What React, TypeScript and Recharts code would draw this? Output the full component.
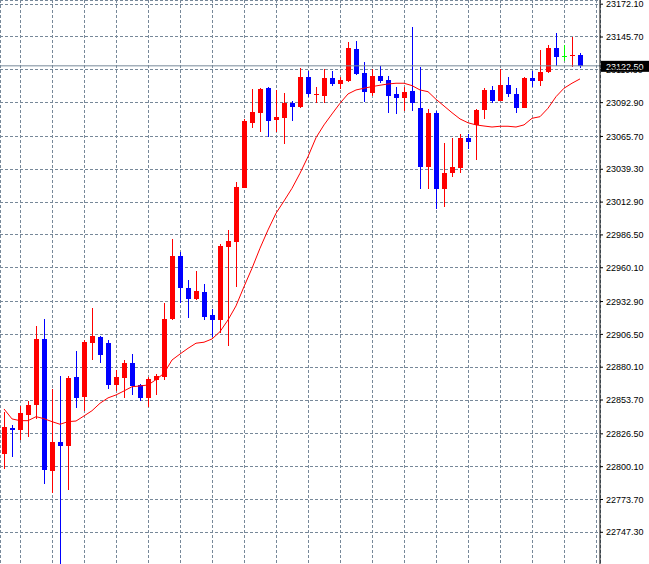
import { ComposedChart, Bar, Line, XAxis, YAxis, CartesianGrid, ReferenceLine } from "recharts";

const opens = [
  22810.5, 22831.5, 22829.9, 22841.7, 22850.0, 22902.8, 22796.6, 22820.0, 22817.0, 22872.2,
  22856.4, 22899.8, 22904.4, 22899.8, 22865.8, 22871.4, 22883.5, 22865.8, 22855.6, 22869.8,
  22872.5, 22918.9, 22969.6, 22943.8, 22935.0, 22940.9, 22922.1, 22918.3, 22977.1, 22981.1,
  23024.5, 23076.8, 23084.8, 23104.7, 23079.2, 23080.8, 23092.7, 23089.7, 23113.6, 23098.8,
  23098.5, 23112.8, 23108.2, 23110.3, 23136.1, 23117.0, 23100.9, 23114.4, 23111.2, 23099.9,
  23096.9, 23102.3, 23088.6, 23041.4, 23084.6, 23023.7, 23036.6, 23040.6, 23064.7, 23074.6,
  23087.0, 23103.1, 23094.3, 23107.1, 23099.9, 23088.6, 23113.0, 23110.3, 23117.3, 23136.9,
  23130.5, 23130.2, 23131.5,
];

const highs = [
  22844.3, 22833.6, 22849.2, 22852.9, 22913.5, 22918.9, 22862.4, 22873.1, 22873.1, 22893.2,
  22901.6, 22928.0, 22905.2, 22902.0, 22877.9, 22885.9, 22890.7, 22866.2, 22872.0, 22874.3,
  22931.8, 22983.3, 22973.0, 22950.3, 22957.5, 22947.1, 22926.7, 22979.2, 22990.5, 23029.3,
  23079.4, 23103.9, 23104.5, 23105.5, 23103.1, 23100.7, 23094.3, 23121.0, 23118.2, 23105.8,
  23120.0, 23118.4, 23113.3, 23141.7, 23142.5, 23125.4, 23119.8, 23122.4, 23114.4, 23105.5,
  23105.5, 23154.0, 23121.6, 23087.6, 23086.5, 23060.5, 23064.7, 23067.7, 23067.7, 23088.1,
  23104.5, 23106.3, 23120.0, 23113.8, 23104.7, 23113.6, 23118.4, 23135.3, 23139.3, 23149.2,
  23139.3, 23146.0, 23132.6,
];

const lows = [
  22798.2, 22808.1, 22821.8, 22824.2, 22838.5, 22786.4, 22778.7, 22720.2, 22781.3, 22847.6,
  22845.1, 22885.9, 22883.7, 22862.8, 22861.0, 22855.6, 22857.8, 22853.2, 22847.9, 22857.8,
  22869.8, 22917.7, 22931.5, 22919.9, 22934.2, 22918.1, 22904.2, 22907.4, 22897.4, 22944.9,
  23023.9, 23072.8, 23069.6, 23065.1, 23069.1, 23059.9, 23078.4, 23088.9, 23097.2, 23092.4,
  23092.9, 23106.6, 23104.2, 23109.8, 23115.2, 23093.7, 23098.3, 23108.5, 23084.8, 23083.8,
  23086.5, 23086.5, 23023.7, 23023.7, 23007.4, 23009.2, 23033.4, 23036.1, 23055.6, 23047.0,
  23079.8, 23092.9, 23093.9, 23097.5, 23084.6, 23088.2, 23105.5, 23106.3, 23116.5, 23122.4,
  23126.2, 23121.9, 23121.0,
];

const closes = [
  22832.3, 22829.9, 22843.3, 22849.7, 22902.8, 22797.4, 22820.0, 22816.7, 22871.4, 22855.6,
  22900.6, 22905.2, 22889.9, 22865.8, 22872.2, 22883.5, 22865.0, 22855.6, 22870.6, 22873.1,
  22918.9, 22969.6, 22944.1, 22935.2, 22941.7, 22920.8, 22918.3, 22977.9, 22981.6, 23025.3,
  23078.4, 23085.4, 23103.9, 23078.4, 23081.4, 23092.7, 23089.7, 23113.6, 23100.1, 23100.1,
  23112.8, 23108.2, 23111.2, 23136.9, 23116.0, 23101.7, 23114.4, 23110.3, 23098.5, 23096.9,
  23101.5, 23092.9, 23041.4, 23084.6, 23023.7, 23036.3, 23041.2, 23064.7, 23061.5, 23087.3,
  23103.1, 23094.3, 23107.1, 23099.9, 23088.6, 23113.0, 23110.3, 23117.6, 23136.9, 23129.9,
  23130.5, 23131.5, 23122.5,
];

// moving average (red line)
const maValues = [
  22846.5, 22838.5, 22837.1, 22837.1, 22840.3, 22838.7, 22836.3, 22834.2, 22836.3, 22836.8,
  22840.9, 22845.1, 22851.1, 22855.4, 22857.8, 22861.0, 22864.4, 22865.0, 22865.8, 22870.1,
  22875.2, 22885.9, 22890.7, 22895.3, 22899.4, 22900.2, 22902.8, 22908.7, 22918.1, 22929.4,
  22944.9, 22959.7, 22975.8, 22990.5, 23003.9, 23013.8, 23024.0, 23036.1, 23049.5, 23064.7,
  23075.0, 23083.8, 23092.4, 23099.9, 23103.1, 23104.5, 23105.8, 23106.9, 23107.9, 23108.5,
  23108.5, 23106.6, 23103.1, 23101.7, 23095.6, 23090.2, 23084.8, 23079.8, 23076.7, 23075.0,
  23074.1, 23073.3, 23073.9, 23073.9, 23073.3, 23075.0, 23080.3, 23081.6, 23088.4, 23097.7,
  23104.5, 23108.5, 23112.0,
];

const priceTicks = [
  23172.1, 23145.7, 23119.3, 23092.9, 23065.7, 23039.3, 23012.9, 22986.5, 22960.1,
  22932.9, 22906.5, 22880.1, 22853.7, 22826.5, 22800.1, 22773.7, 22747.3,
];

const lastPrice = 23122.5;
const slotCount = 75;
const gridSlots = Array.from({ length: 19 }, (_, k) => 2 + k * 4);
const axisFont = "'Liberation Sans', Arial, sans-serif";

const data = Array.from({ length: slotCount }, (_, i) =>
  i < opens.length
    ? { idx: i, open: opens[i], high: highs[i], low: lows[i], close: closes[i], ma: maValues[i] }
    : { idx: i }
);

const Candle = (props: any) => {
  const { x, y, width, height, payload } = props;
  if (payload == null || payload.open == null) return null;
  const { open, close, high, low } = payload;
  const k = high === low ? 0 : height / (high - low);
  const cx = Math.floor(x + width / 2);
  const color = close > open ? "#ff0000" : close < open ? "#0000ff" : "#00ff00";
  const top = Math.round(y + (high - Math.max(open, close)) * k);
  const bot = Math.round(y + (high - Math.min(open, close)) * k);
  const wTop = Math.round(y);
  const wBot = Math.round(y + height);
  return (
    <g shapeRendering="crispEdges">
      <rect x={cx} y={wTop} width={1} height={Math.max(1, wBot - wTop)} fill={color} />
      <rect x={cx - 2} y={top} width={5} height={Math.max(1, bot - top)} fill={color} />
    </g>
  );
};

const PriceTag = (props: any) => {
  const vb = props.viewBox;
  if (!vb) return null;
  const left = vb.x + vb.width + 1;
  return (
    <g>
      <rect x={left} y={vb.y - 5} width={48} height={11} fill="#000000" />
      <text x={left + 5} y={vb.y + 4} fill="#ffffff" fontSize={9} fontFamily={axisFont}>
        {lastPrice.toFixed(2)}
      </text>
    </g>
  );
};

export default function App() {
  return (
    <div style={{ position: "absolute", left: 0, top: 0, width: 649, height: 564, background: "#ffffff" }}>
      <ComposedChart width={649} height={564} data={data} margin={{ top: 0, right: 0, bottom: 0, left: 0 }}>
        <CartesianGrid stroke="#778899" strokeDasharray="3 2" shapeRendering="crispEdges" />
        <XAxis dataKey="idx" type="category" hide ticks={gridSlots} interval={0} />
        <YAxis
          orientation="right"
          type="number"
          width={49}
          domain={[22721.8, 23175.46]}
          allowDataOverflow
          ticks={priceTicks}
          interval={0}
          tickSize={3}
          tickMargin={3}
          stroke="#000000"
          tick={{ fill: "#000000", fontSize: 9, fontFamily: axisFont }}
          tickFormatter={(v: number) => v.toFixed(2)}
        />
        <Bar
          dataKey={(d: any) => (d.low != null ? [d.low, d.high] : null)}
          barSize={5}
          shape={<Candle />}
          isAnimationActive={false}
        />
        <Line
          dataKey="ma"
          type="linear"
          stroke="#ff0000"
          strokeWidth={1}
          dot={false}
          activeDot={false}
          isAnimationActive={false}
        />
        <ReferenceLine y={lastPrice} stroke="#778899" strokeWidth={1} label={<PriceTag />} />
      </ComposedChart>
    </div>
  );
}
